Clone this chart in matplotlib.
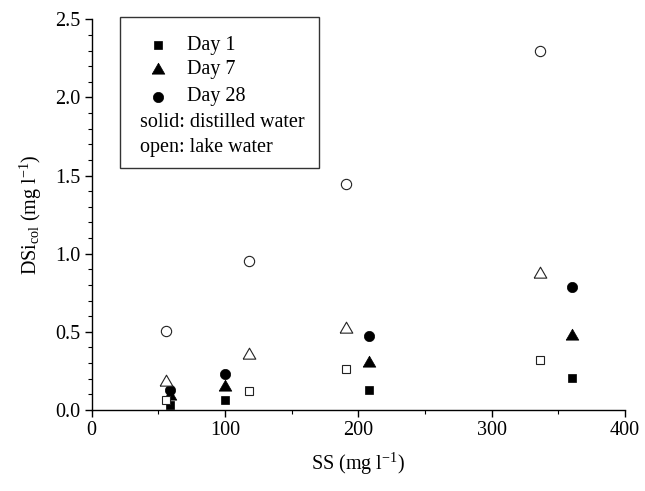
import numpy as np
import matplotlib
matplotlib.use("Agg")
import matplotlib.pyplot as plt
from matplotlib.patches import Rectangle
from matplotlib.ticker import MultipleLocator

plt.rcParams['font.family'] = ['Liberation Serif', 'DejaVu Serif']
plt.rcParams['mathtext.fontset'] = 'custom'
plt.rcParams['mathtext.rm'] = 'Liberation Serif'
plt.rcParams['mathtext.it'] = 'Liberation Serif:italic'
plt.rcParams['font.size'] = 14.5

# suspended solids (mg/l) per water type
ss_lake = [56, 118, 191, 336]
ss_dist = [59, 100, 208, 360]

# DSi_col (mg/l), lake water (open markers)
lake_day1 = [0.064, 0.124, 0.264, 0.32]
lake_day7 = [0.18, 0.35, 0.52, 0.87]
lake_day28 = [0.503, 0.953, 1.445, 2.30]

# DSi_col (mg/l), distilled water (solid markers)
dist_day1 = [0.03, 0.062, 0.128, 0.205]
dist_day7 = [0.09, 0.149, 0.303, 0.473]
dist_day28 = [0.128, 0.232, 0.475, 0.79]

legend_labels = ["Day 1", "Day 7", "Day 28"]
legend_notes = ["solid: distilled water", "open: lake water"]

# equilateral triangle marker
tri = [(-1, -0.577), (1, -0.577), (0, 1.155), (-1, -0.577)]

fig = plt.figure(figsize=(6.45, 4.91), dpi=100)
ax = fig.add_axes([0.1422, 0.165, 0.8268, 0.7957])

styles = [('s', 6.4), (tri, 10.5), ('o', 7.4)]
lake = [lake_day1, lake_day7, lake_day28]
dist = [dist_day1, dist_day7, dist_day28]

# solid first, open symbols on top
for (mk, ms), yd in zip(styles, dist):
    ax.plot(ss_dist, yd, linestyle='none', marker=mk, ms=ms,
            mfc='black', mec='black', mew=0.5)
for (mk, ms), yl in zip(styles, lake):
    ax.plot(ss_lake, yl, linestyle='none', marker=mk, ms=ms,
            mfc='white', mec='#222222', mew=0.8)

ax.set_xlim(0, 400)
ax.set_ylim(0, 2.5)
ax.xaxis.set_major_locator(MultipleLocator(100))
ax.xaxis.set_minor_locator(MultipleLocator(50))
ax.yaxis.set_major_locator(MultipleLocator(0.5))
ax.yaxis.set_minor_locator(MultipleLocator(0.1))
ax.yaxis.set_major_formatter(matplotlib.ticker.FormatStrFormatter('%.1f'))

ax.spines['top'].set_visible(False)
ax.spines['right'].set_visible(False)
for sp in ['left', 'bottom']:
    ax.spines[sp].set_linewidth(1.0)
ax.tick_params(which='major', direction='out', length=5, width=1.0, labelsize=14.5, pad=3)
ax.tick_params(which='minor', direction='out', length=2.6, width=0.8)

ax.set_xlabel(r"SS (mg l$^{-1}$)", fontsize=14.5, labelpad=8)
ax.set_ylabel(r"DSi$_{\mathrm{col}}$ (mg l$^{-1}$)", fontsize=14.5, labelpad=8)

# legend box drawn by hand
ax.add_patch(Rectangle((0.053, 0.62), 0.374, 0.385, transform=ax.transAxes,
                       fill=False, ec='#333333', lw=1.0, clip_on=False))
rows = [0.934, 0.8707, 0.802]
for (mk, ms), lab, yy in zip(styles, legend_labels, rows):
    ax.plot([0.1238], [yy], transform=ax.transAxes, linestyle='none',
            marker=mk, ms=ms, mfc='black', mec='black', mew=0.5, clip_on=False)
    ax.text(0.178, yy, lab, transform=ax.transAxes, va='center', ha='left')
for note, yy in zip(legend_notes, [0.735, 0.6706]):
    ax.text(0.0906, yy, note, transform=ax.transAxes, va='center', ha='left')

fig.savefig("out.png", dpi=100)
